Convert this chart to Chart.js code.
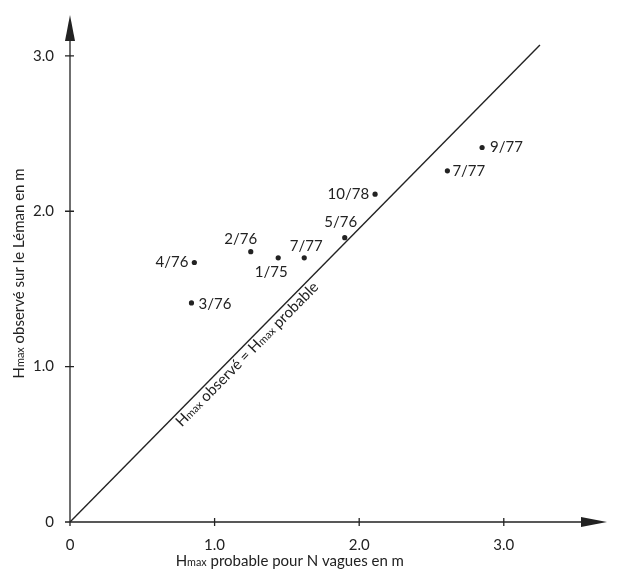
<!DOCTYPE html>
<html><head><meta charset="utf-8">
<script src="https://cdn.jsdelivr.net/npm/chart.js@4"></script>
<style>body{margin:0;background:#fff}#wrap{width:619px;height:575px}</style>
</head><body><div id="wrap"><canvas id="c"></canvas></div>
<script>
// observations
const labels = ['4/76', '3/76', '2/76', '1/75', '7/77', '5/76', '10/78', '7/77', '9/77'];
const probable = [0.86, 0.84, 1.25, 1.44, 1.62, 1.90, 2.11, 2.61, 2.85];
const observed = [1.67, 1.41, 1.74, 1.70, 1.70, 1.83, 2.11, 2.26, 2.41];
const lineX = [0, 3.25];
const lineY = [0, 3.07];
const tickValues = [0, 1, 2, 3];

// label placement: [dx, dy, align]
const labelPos = [[-6, 0, 'right'], [7, 1, 'left'], [-10, -12, 'center'], [-7, 14, 'center'], [2, -12, 'center'],
  [-4, -15, 'center'], [-6, 0, 'right'], [5, 0, 'left'], [8, 0, 'left']];
const ink = '#222';
const FONT = 'Lato, "DejaVu Sans", sans-serif';

// draws a run of [text, small?] parts
function rich(ctx, x, y, parts, size, align) {
  const w = parts.map(p => { ctx.font = (p[1] ? size * 0.72 : size) + 'px ' + FONT; return ctx.measureText(p[0]).width; });
  const total = w.reduce((a, b) => a + b, 0);
  let cx = align === 'center' ? x - total / 2 : x;
  ctx.textAlign = 'left'; ctx.textBaseline = 'alphabetic';
  parts.forEach((p, i) => {
    ctx.font = (p[1] ? size * 0.72 : size) + 'px ' + FONT;
    ctx.fillText(p[0], cx, y);
    cx += w[i];
  });
}

const deco = {
  id: 'deco',
  afterDraw(chart) {
    const ctx = chart.ctx, xs = chart.scales.x, ys = chart.scales.y, a = chart.chartArea;
    ctx.save();
    ctx.fillStyle = ink; ctx.strokeStyle = ink; ctx.lineWidth = 1.3;
    // axes
    ctx.beginPath();
    ctx.moveTo(a.left, a.bottom); ctx.lineTo(a.right - 4, a.bottom);
    ctx.moveTo(a.left, a.bottom); ctx.lineTo(a.left, a.top + 4);
    tickValues.forEach(v => {
      const px = xs.getPixelForValue(v), py = ys.getPixelForValue(v);
      ctx.moveTo(px, a.bottom - 4); ctx.lineTo(px, a.bottom + 4);
      ctx.moveTo(a.left - 5, py); ctx.lineTo(a.left + 4, py);
    });
    ctx.stroke();
    ctx.beginPath();
    ctx.moveTo(a.right + 2, a.bottom); ctx.lineTo(a.right - 24, a.bottom - 5); ctx.lineTo(a.right - 24, a.bottom + 5); ctx.fill();
    ctx.beginPath();
    ctx.moveTo(a.left, a.top - 2); ctx.lineTo(a.left - 5, a.top + 24); ctx.lineTo(a.left + 5, a.top + 24); ctx.fill();
    // point labels
    ctx.font = '15px ' + FONT; ctx.textBaseline = 'middle';
    labels.forEach((t, i) => {
      const p = labelPos[i];
      ctx.textAlign = p[2];
      ctx.fillText(t, xs.getPixelForValue(probable[i]) + p[0], ys.getPixelForValue(observed[i]) + p[1]);
    });
    // line label, sitting just below-right of the line
    const x1 = xs.getPixelForValue(lineX[0]), y1 = ys.getPixelForValue(lineY[0]);
    const x2 = xs.getPixelForValue(lineX[1]), y2 = ys.getPixelForValue(lineY[1]);
    const ang = Math.atan2(y2 - y1, x2 - x1);
    ctx.save();
    ctx.translate(xs.getPixelForValue(1.17), ys.getPixelForValue(1.13));
    ctx.rotate(ang);
    rich(ctx, 0, 16, [['H'], ['max', 1], [' observé = H'], ['max', 1], [' probable']], 15, 'center');
    ctx.restore();
    // axis titles
    rich(ctx, xs.getPixelForValue(1.52), 566, [['H'], ['max', 1], [' probable pour N vagues en m']], 15, 'center');
    ctx.save();
    ctx.translate(24, ys.getPixelForValue(1.6));
    ctx.rotate(-Math.PI / 2);
    rich(ctx, 0, 0, [['H'], ['max', 1], [' observé sur le Léman en m']], 15, 'center');
    ctx.restore();
    ctx.restore();
  }
};

new Chart(document.getElementById('c'), {
  type: 'scatter',
  data: {
    datasets: [
      { data: probable.map((v, i) => ({ x: v, y: observed[i] })), pointRadius: 2.6, pointBackgroundColor: ink, pointBorderWidth: 0 },
      { type: 'line', data: lineX.map((v, i) => ({ x: v, y: lineY[i] })), borderColor: ink, borderWidth: 1.4, pointRadius: 0 }
    ]
  },
  options: {
    responsive: true, maintainAspectRatio: false, animation: false,
    layout: { padding: { top: 12, right: 14, left: 0, bottom: 0 } },
    plugins: { legend: { display: false }, tooltip: { enabled: false } },
    scales: {
      x: {
        type: 'linear', min: 0, max: 3.7,
        afterFit(s) { s.height = 53; },
        afterBuildTicks(s) { s.ticks = tickValues.map(v => ({ value: v })); },
        grid: { display: false },
        border: { display: false },
        ticks: { color: ink, font: { family: FONT, size: 15 }, padding: 6, callback: v => v === 0 ? '0' : v.toFixed(1) }
      },
      y: {
        type: 'linear', min: 0, max: 3.25,
        afterFit(s) { s.width = 70; },
        afterBuildTicks(s) { s.ticks = tickValues.map(v => ({ value: v })); },
        grid: { display: false },
        border: { display: false },
        ticks: { color: ink, font: { family: FONT, size: 15 }, padding: 8, callback: v => v === 0 ? '0' : v.toFixed(1) }
      }
    }
  },
  plugins: [deco]
});
</script></body></html>
